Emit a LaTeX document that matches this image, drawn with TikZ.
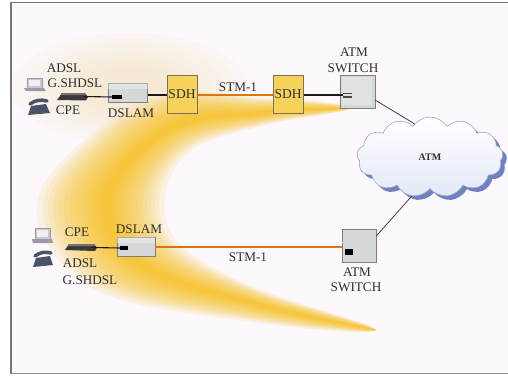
\documentclass[tikz,border=0pt]{standalone}
\usepackage{fontspec}
\setmainfont{Liberation Serif}
\usetikzlibrary{shapes.symbols,calc}

\definecolor{pagebg}{HTML}{FCF8FB}
\definecolor{framegray}{HTML}{767676}
\definecolor{swoosh}{HTML}{F7C01A}
\definecolor{sdhfill}{HTML}{F5D35B}
\definecolor{sdhedge}{HTML}{7A7052}
\definecolor{boxfill}{HTML}{D5D8D8}
\definecolor{boxedge}{HTML}{7C7F80}
\definecolor{stmline}{HTML}{DC7414}
\definecolor{labeltext}{HTML}{2E2E2E}
\definecolor{cloudshade}{HTML}{7181C0}
\definecolor{cloudlight}{HTML}{E3E9F7}
\definecolor{pcgray}{HTML}{9C99AC}
\definecolor{phonegray}{HTML}{4A5466}
\definecolor{modemdark}{HTML}{3A3A3C}

\begin{document}
\begin{tikzpicture}[x=1pt,y=-1pt,
  lbl/.style={text=labeltext,font=\fontsize{13.2}{14}\selectfont,inner sep=0pt},
  sdhbox/.style={draw=sdhedge,fill=sdhfill,line width=0.8pt,minimum width=30pt,
    minimum height=38pt,inner sep=0pt,text=labeltext,font=\fontsize{13.5}{14}\selectfont},
  dslambox/.style={draw=boxedge,fill=boxfill,line width=0.8pt,minimum width=39pt,minimum height=19pt,inner sep=0pt},
  switchbox/.style={draw=boxedge,fill=boxfill,line width=0.8pt,minimum width=35pt,minimum height=33pt,inner sep=0pt},
  port/.style={fill=black},
  wire/.style={draw=black!90,line width=1.1pt},
  stm/.style={draw=stmline,line width=1.3pt},
  uplink/.style={draw=black!75,line width=0.8pt},
  pcicon/.style={fill=pcgray!55,draw=pcgray,line width=0.6pt},
]
% page and frame
\useasboundingbox (0,0) rectangle (508,375);
\fill[white] (0,0) rectangle (508,375);
\fill[pagebg] (11,2) rectangle (508,373);
\draw[framegray,line width=1pt] (11,2) -- (508,2);
\draw[framegray!80,line width=1pt] (11,373) -- (508,373);
\draw[framegray,line width=2.6pt] (11,1.5) -- (11,373.5);

% soft wash in the upper left
\foreach \r in {1,0.9,0.8,0.7,0.6,0.5,0.4}{
  \fill[swoosh,opacity=0.025] (130,88) ellipse ({118*\r} and {55*\r});
}

% golden swoosh: layered crescents, densest along the middle of the band
\foreach \f in {0.55,0.50,0.46,0.42,0.38,0.34,0.30,0.26,0.22,0.18,0.15,0.12,0.09,0.06,0.04}{
  \pgfmathsetmacro\outf{0.45+1.1*\f}
  \pgfmathsetmacro\innf{0.45-0.9*\f}
  \coordinate (so1) at ($(265,124)!\outf!(265,99)$);
  \coordinate (so2) at ($(190,148)!\outf!(150,102)$);
  \coordinate (so3) at ($(160,195)!\outf!(45,195)$);
  \coordinate (so4) at ($(175,245)!\outf!(95,285)$);
  \coordinate (so5) at ($(255,289)!\outf!(250,320)$);
  \coordinate (si1) at ($(265,124)!\innf!(265,99)$);
  \coordinate (si2) at ($(190,148)!\innf!(150,102)$);
  \coordinate (si3) at ($(160,195)!\innf!(45,195)$);
  \coordinate (si4) at ($(175,245)!\innf!(95,285)$);
  \coordinate (si5) at ($(255,289)!\innf!(250,320)$);
  \fill[swoosh,opacity=0.11] plot[smooth cycle,tension=0.6] coordinates
    {(350,108) (so1) (so2) (so3) (so4) (so5) (376,330) (si5) (si4) (si3) (si2) (si1)};
}

% ---------------- upper access line ----------------
% PC
\fill[pcicon] (27,78) rectangle (42,88);
\fill[white!85!pcgray] (29,80) rectangle (40,86);
\fill[pcgray] (24,88) -- (44,88) -- (46,91) -- (26,91) -- cycle;
% telephone
\fill[phonegray] (28,115) -- (31,106) -- (46,104) -- (50,113) -- cycle;
\draw[phonegray,line width=3.5pt,line cap=round] (30,104) to[bend left=25] (47,101);
% modem
\fill[modemdark] (57,100) -- (62,93) -- (85,93) -- (88,97) -- (86,100.5) -- cycle;
\fill[black!55] (62,93) -- (85,93) -- (86,95) -- (61,95) -- cycle;
\coordinate (modemA) at (84,96.5);

\node[lbl] (adslA) at (64,68) {ADSL};
\node[lbl] (shdslA) at (75,83) {G.SHDSL};
\node[lbl] (cpeA) at (68,110) {CPE};

\node[dslambox] (dslamA) at (128,93) {};
\fill[white,opacity=0.35] (dslamA.north west) rectangle ([yshift=-6pt]dslamA.north east);
\coordinate (dslamAport) at (112,97);
\fill[port] (112,95) rectangle (122,99);
\node[lbl] (dslamAlbl) at (131,113) {DSLAM};

\node[lbl] (stmAlbl) at (238,87) {STM-1};

\node[switchbox] (swA) at (357.5,91.5) {};
\fill[white,opacity=0.3] ([shift={(2pt,-2pt)}]swA.north west) rectangle ([shift={(-3pt,3pt)}]swA.south east);
\coordinate (swAport) at (343,95);
\fill[black!70] (343,92.5) rectangle (352,94);
\fill[black!70] (343,96) rectangle (352,97.5);
\node[lbl] (atmAlbl) at (354,52) {ATM};
\node[lbl] (switchAlbl) at (353,68) {SWITCH};

\coordinate (sdhAleft) at (167,95);
\coordinate (sdhAright) at (197,95);
\coordinate (sdhBleft) at (273,95);
\coordinate (sdhBright) at (303,95);
\draw[wire] (modemA) -- (dslamAport);
\draw[wire] (dslamA.east |- sdhAleft) -- (sdhAleft);
\draw[stm] (sdhAright) -- (sdhBleft);
\draw[wire] (sdhBright) -- (swAport);
\node[sdhbox] (sdhA) at (182,94) {SDH};
\node[sdhbox] (sdhB) at (288,94) {SDH};

% ---------------- ATM cloud ----------------
\node[cloud,cloud puffs=13,cloud puff arc=115,aspect=1.9,minimum width=146pt,minimum height=80pt,
  fill=cloudshade,draw=none] (cloudshadow) at (434,161) {};
\node[cloud,cloud puffs=13,cloud puff arc=115,aspect=1.9,minimum width=146pt,minimum height=80pt,
  top color=white,bottom color=cloudlight,draw=cloudshade!70,line width=0.6pt,
  font=\bfseries\fontsize{10}{11}\selectfont,text=labeltext] (cloud) at (430,157) {ATM};

% ---------------- lower access line ----------------
% PC
\fill[pcicon] (35,228) rectangle (50,239);
\fill[white!85!pcgray] (37,230) rectangle (48,237);
\fill[pcgray] (32,239) -- (52,239) -- (53,243) -- (33,243) -- cycle;
% telephone
\fill[phonegray] (33,267) -- (36,258) -- (50,256) -- (53,265) -- cycle;
\draw[phonegray,line width=3.5pt,line cap=round] (35,256) to[bend left=25] (51,253);
% modem
\fill[modemdark] (65,250) -- (69,244) -- (94,244) -- (97,247.5) -- (95,251) -- cycle;
\fill[black!55] (69,244) -- (94,244) -- (95,246) -- (68,246) -- cycle;
\coordinate (modemB) at (92,247.5);

\node[lbl] (cpeB) at (77,232) {CPE};
\node[lbl] (adslB) at (80,263) {ADSL};
\node[lbl] (shdslB) at (90,280) {G.SHDSL};

\node[dslambox,minimum width=38pt] (dslamB) at (136,246.5) {};
\fill[white,opacity=0.35] (dslamB.north west) rectangle ([yshift=-6pt]dslamB.north east);
\coordinate (dslamBport) at (120,248);
\fill[port] (120,245.5) rectangle (128,250);
\node[lbl] (dslamBlbl) at (139,229) {DSLAM};

\node[switchbox,minimum width=34pt] (swB) at (359,245.5) {};
\draw[white!70!boxedge,line width=0.6pt] (swB.west |- 0,242) -- (swB.east |- 0,242);
\fill[port] (345,249) rectangle (353,255);
\node[lbl] (atmBlbl) at (357,272) {ATM};
\node[lbl] (switchBlbl) at (356,287) {SWITCH};
\node[lbl] (stmBlbl) at (248,257) {STM-1};

\draw[wire] (modemB) -- (dslamBport);
\draw[stm] (dslamB.east |- 0,247) -- (swB.west |- 0,247);

% switch to cloud uplinks
\draw[uplink] (swA.-26) -- (cloud.115);
\draw[uplink] (swB.29) -- (cloud.245);
\end{tikzpicture}
\end{document}
